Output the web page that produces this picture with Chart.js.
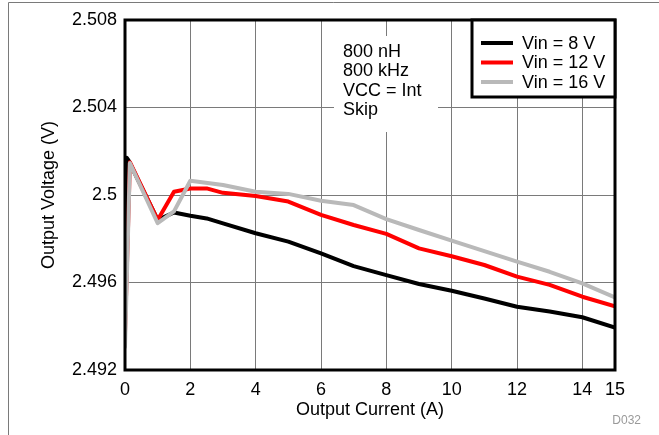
<!DOCTYPE html>
<html><head><meta charset="utf-8">
<script src="https://cdn.jsdelivr.net/npm/chart.js@4/dist/chart.umd.min.js"></script>
<style>html,body{margin:0;padding:0;background:#fff;overflow:hidden}canvas{display:block}</style>
</head><body>
<canvas id="c" width="659" height="435"></canvas>
<script>
// ---- data ----
const seriesLabels = ['Vin = 8 V', 'Vin = 12 V', 'Vin = 16 V'];
const seriesColors = ['#000000', '#ff0000', '#b9b9b9'];

const current8 = [0, 0.05, 0.1, 1, 1.5, 2, 2.5, 3, 4, 5, 6, 7, 8, 9, 10, 11, 12, 13, 14, 15];
const vout8 = [2.4970, 2.5017, 2.5016, 2.49886, 2.4992, 2.49905, 2.49893, 2.49870, 2.49825, 2.49787, 2.49733, 2.49675, 2.49634, 2.49593, 2.49562, 2.49527, 2.49489, 2.49467, 2.49441, 2.49394];

const current12 = [0, 0.15, 1, 1.5, 2, 2.5, 3, 4, 5, 6, 7, 8, 9, 10, 11, 12, 13, 14, 15];
const vout12 = [2.4937, 2.5015, 2.49886, 2.50015, 2.5003, 2.5003, 2.5001, 2.49995, 2.4997, 2.49909, 2.49863, 2.49822, 2.49756, 2.4972, 2.4968, 2.49627, 2.49589, 2.49535, 2.49491];

const current16 = [0, 0.15, 1, 1.5, 2, 3, 4, 5, 6, 7, 8, 9, 10, 11, 12, 13, 14, 15];
const vout16 = [2.49305, 2.50146, 2.49871, 2.49925, 2.50065, 2.50046, 2.50015, 2.50005, 2.49974, 2.49954, 2.4989, 2.4984, 2.49791, 2.49743, 2.49695, 2.49649, 2.49596, 2.49532];

const xTicks = [0, 2, 4, 6, 8, 10, 12, 14, 15];
const yTicks = [2.492, 2.496, 2.5, 2.504, 2.508];
const noteLines = ['800 nH', '800 kHz', 'VCC = Int', 'Skip'];
const xTitle = 'Output Current (A)';
const yTitle = 'Output Voltage (V)';
const figureId = 'D032';

// ---- chart ----
const FONT = '"Liberation Sans", Arial, Helvetica, sans-serif';
const pts = (xs, ys) => xs.map((x, i) => ({x: x, y: ys[i]}));

const overlay = {
  id: 'overlay',
  beforeDraw(chart) {
    const ctx = chart.ctx;
    ctx.save();
    ctx.fillStyle = '#fff';
    ctx.fillRect(0, 0, chart.width, chart.height);
    ctx.strokeStyle = '#7a7a7a';
    ctx.lineWidth = 1;
    ctx.beginPath();
    ctx.moveTo(8.5, 435); ctx.lineTo(8.5, 2.5); ctx.lineTo(659, 2.5);
    ctx.stroke();
    ctx.restore();
  },
  beforeDatasetsDraw(chart) {
    const ctx = chart.ctx, a = chart.chartArea;
    ctx.save();
    ctx.fillStyle = '#fff';
    // note box (covers grid)
    ctx.fillRect(a.left + 209, a.top + 16, 104, 96);
    // legend box
    ctx.fillRect(a.right - 143, a.top, 143, 77);
    ctx.restore();
  },
  afterDatasetsDraw(chart) {
    const ctx = chart.ctx, a = chart.chartArea;
    ctx.save();
    // plot frame
    ctx.strokeStyle = '#000';
    ctx.lineWidth = 3;
    ctx.strokeRect(a.left, a.top, a.right - a.left, a.bottom - a.top);
    // legend
    const lx = a.right - 143, ly = a.top, lw = 143, lh = 77;
    ctx.fillStyle = '#fff';
    ctx.fillRect(lx, ly, lw, lh);
    ctx.strokeRect(lx, ly, lw, lh);
    ctx.font = '18px ' + FONT;
    ctx.textBaseline = 'middle';
    ctx.textAlign = 'left';
    chart.data.datasets.forEach((ds, i) => {
      const y = ly + 23 + i * 19.5;
      ctx.strokeStyle = ds.borderColor;
      ctx.lineWidth = 4;
      ctx.beginPath();
      ctx.moveTo(lx + 9, y); ctx.lineTo(lx + 41, y);
      ctx.stroke();
      ctx.fillStyle = '#000';
      ctx.fillText(ds.label, lx + 50, y + 1);
    });
    // note text
    noteLines.forEach((t, i) => {
      ctx.fillText(t, a.left + 218, a.top + 32 + i * 19.3);
    });
    // figure id
    ctx.font = '12px ' + FONT;
    ctx.fillStyle = '#9a9a9a';
    ctx.textAlign = 'right';
    ctx.fillText(figureId, 641, 421);
    ctx.restore();
  }
};

const gridCfg = {color: '#7a7a7a', lineWidth: 1, drawTicks: false};

new Chart(document.getElementById('c'), {
  type: 'line',
  data: {
    datasets: [
      {label: seriesLabels[0], data: pts(current8, vout8), borderColor: seriesColors[0], order: 2},
      {label: seriesLabels[1], data: pts(current12, vout12), borderColor: seriesColors[1], order: 1},
      {label: seriesLabels[2], data: pts(current16, vout16), borderColor: seriesColors[2], order: 0}
    ]
  },
  options: {
    responsive: false,
    animation: false,
    events: [],
    datasets: {line: {borderWidth: 4, pointRadius: 0, tension: 0, fill: false, borderJoinStyle: 'round', borderCapStyle: 'round'}},
    layout: {padding: {left: 0, top: 20, right: 44, bottom: 0}},
    plugins: {legend: {display: false}, tooltip: {enabled: false}},
    scales: {
      x: {
        type: 'linear', min: 0, max: 15,
        afterBuildTicks: s => { s.ticks = xTicks.map(v => ({value: v})); },
        afterFit: s => { s.height = 65; },
        grid: gridCfg,
        border: {display: false},
        ticks: {color: '#000', font: {size: 18, family: FONT}, padding: 9, maxRotation: 0, autoSkip: false,
                callback: v => String(v)},
        title: {display: true, text: xTitle, color: '#000', font: {size: 18, family: FONT}, padding: {top: 0, bottom: 14}}
      },
      y: {
        type: 'linear', min: 2.492, max: 2.508,
        afterBuildTicks: s => { s.ticks = yTicks.map(v => ({value: v})); },
        afterFit: s => { s.width = 125; },
        grid: gridCfg,
        border: {display: false},
        ticks: {color: '#000', font: {size: 18, family: FONT}, padding: 8, autoSkip: false,
                callback: v => String(parseFloat(Number(v).toFixed(3)))},
        title: {display: true, text: yTitle, color: '#000', font: {size: 18, family: FONT}, padding: {top: 38, bottom: 0}}
      }
    }
  },
  plugins: [overlay]
});
</script>
</body></html>
